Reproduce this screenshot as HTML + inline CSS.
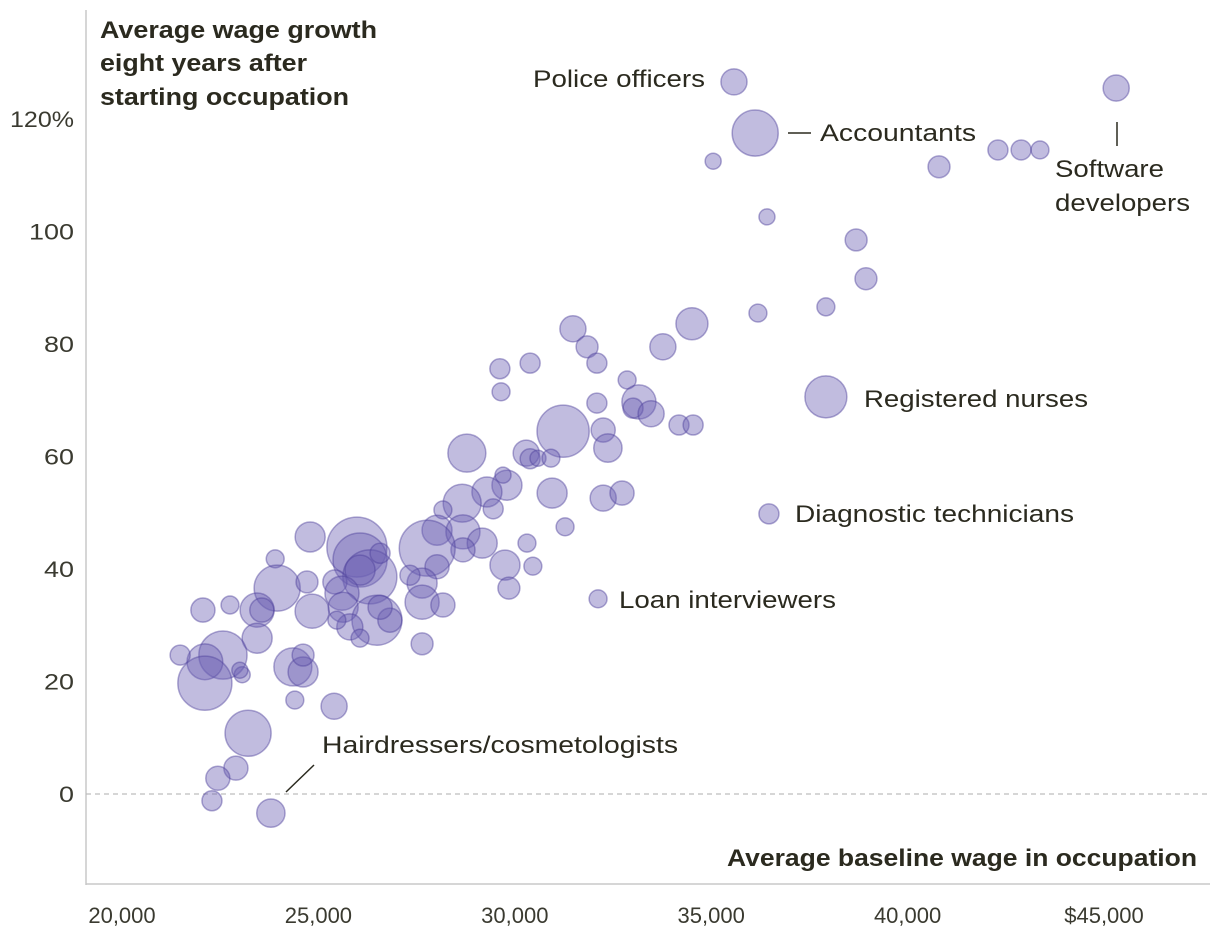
<!DOCTYPE html>
<html><head><meta charset="utf-8">
<style>
body{margin:0;background:#fff;}
svg{display:block;font-family:"Liberation Sans",sans-serif;}
.lab{font-size:24px;fill:#2b2a1f;}
.tick{font-size:22px;fill:#3a3a30;}
</style></head>
<body>
<svg id="chart" width="1220" height="946" viewBox="0 0 1220 946">
<g id="axes"></g>
<g id="bubbles"></g>
<g id="annot"></g>
</svg>
<script>
const wages=[28780,29800,29700,29290,29450,28660,28170,28020,28680,29170,28680,29750,29850,27770,28020,27640,27640,28170,27330,27640,25980,26060,26310,26060,26570,25420,25600,25630,26490,26820,25800,26060,25470,26570,24790,23900,23950,24710,24840,23440,23560,22750,22060,23440,22570,22110,22110,21480,23060,23000,24350,24610,24610,24400,25400,23210,22900,22440,22290,23790,
31480,31840,32090,34510,33770,32860,33160,33010,33470,34180,34540,29620,30390,29650,32090,31230,32250,32370,30290,30390,30590,30920,30950,32250,32730,31280,30310,30460,32120,
35580,36120,35050,45310,42300,42890,43370,40800,36420,38690,38940,36190,37920,37920,36470];
const growth=[60.6,54.9,56.7,53.7,50.7,51.7,50.5,46.9,46.6,44.6,43.4,40.7,36.6,43.7,40.4,37.5,34.1,33.6,38.9,26.7,43.9,41.6,38.6,39.8,42.8,37.7,35.7,33.2,30.9,30.9,29.7,27.7,30.9,33.2,45.7,41.8,36.6,37.7,32.5,32.7,32.7,33.6,32.7,27.7,24.7,23.5,19.7,24.7,21.2,22.0,22.6,21.7,24.7,16.7,15.6,10.8,4.6,2.8,-1.2,-3.4,
82.7,79.5,76.6,83.6,79.5,73.6,69.7,68.6,67.6,65.6,65.6,75.6,76.6,71.5,69.5,64.5,64.7,61.5,60.6,59.6,59.7,59.7,53.5,52.6,53.5,47.5,44.6,40.5,34.7,
126.6,117.5,112.5,125.5,114.5,114.5,114.5,111.5,102.6,98.5,91.6,85.5,86.6,70.6,49.8];
const workers=[360,225,64,225,100,360,80,225,290,225,145,225,120,780,145,225,290,145,100,120,900,730,730,225,100,145,290,225,625,145,170,80,80,145,225,80,530,120,290,290,145,80,145,225,580,320,730,100,64,64,360,225,120,80,170,530,145,145,100,200,
170,120,100,256,170,80,290,100,170,100,100,100,100,80,100,680,145,200,170,100,64,80,225,170,145,80,80,80,80,
170,530,64,170,100,100,80,120,64,120,120,80,80,440,100];
const xTicks=[20000,25000,30000,35000,40000,45000];
const xTickLabels=["20,000","25,000","30,000","35,000","40,000","$45,000"];
const yTicks=[0,20,40,60,80,100,120];
const yTickLabels=["0","20","40","60","80","100","120%"];

const NS="http://www.w3.org/2000/svg";
const X=v=>122+(v-20000)*0.03928;
const Y=v=>794-v*5.625;
function mk(tag,attrs,parent,text){const e=document.createElementNS(NS,tag);for(const k in attrs)e.setAttribute(k,attrs[k]);if(text!==undefined)e.textContent=text;parent.appendChild(e);return e;}
const axes=document.getElementById('axes');
let e=mk('line',{x1:86,y1:10,x2:86,y2:885,stroke:'#c8c8c8','stroke-width':1.5},axes);


e=mk('line',{x1:86,y1:884,x2:1210,y2:884,stroke:'#c8c8c8','stroke-width':1.5},axes);


e=mk('line',{x1:86,y1:Y(0),x2:1210,y2:Y(0),stroke:'#bdbdbd','stroke-width':1.2,'stroke-dasharray':'5,4'},axes);


xTicks.forEach((t,i)=>{
  const el=mk('text',{x:X(t),y:923,'text-anchor':'middle',class:'tick'},axes,xTickLabels[i]);
  
  
});
yTicks.forEach((t,i)=>{
  const lab=yTickLabels[i];
  const w=lab.length===1?15:lab.length===2?30:lab.length===3?45:64;
  const el=mk('text',{x:74-w,y:Y(t)+8,class:'tick',textLength:w,lengthAdjust:'spacingAndGlyphs'},axes,lab);
  
  
});
const bg=document.getElementById('bubbles');
wages.forEach((w,i)=>{
  const c=mk('circle',{cx:X(w),cy:Y(growth[i]),r:Math.sqrt(workers[i]),fill:'#6b60b2','fill-opacity':0.42,stroke:'#4d419c','stroke-opacity':0.45,'stroke-width':1.5},bg);
  
  
});
</script>
<script>
(function(){
const a=document.getElementById('annot');
const NS="http://www.w3.org/2000/svg";
function t(x,y,s,name,bold,w){const e=document.createElementNS(NS,'text');e.setAttribute('x',x);e.setAttribute('y',y);e.setAttribute('class','lab');if(bold)e.setAttribute('font-weight','bold');
e.setAttribute('textLength',w);e.setAttribute('lengthAdjust','spacingAndGlyphs');e.textContent=s;


a.appendChild(e);}
function l(x1,y1,x2,y2,name){const e=document.createElementNS(NS,'line');e.setAttribute('x1',x1);e.setAttribute('y1',y1);e.setAttribute('x2',x2);e.setAttribute('y2',y2);e.setAttribute('stroke','#2b2a1f');e.setAttribute('stroke-width',1.5);


a.appendChild(e);}
t(100,38,'Average wage growth','y-axis-title',true,277);
t(100,71,'eight years after','y-axis-title',true,207);
t(100,105,'starting occupation','y-axis-title',true,249);
t(727,866,'Average baseline wage in occupation','x-axis-title',true,470);
t(533,87,'Police officers','label-police-officers',false,172);
t(820,141,'Accountants','label-accountants',false,156);
l(788,133,811,133,'accountants-leader');
t(1055,177,'Software','label-software-developers',false,109);
t(1055,211,'developers','label-software-developers',false,135);
l(1117,122,1117,146,'software-leader');
t(864,407,'Registered nurses','label-registered-nurses',false,224);
t(795,522,'Diagnostic technicians','label-diagnostic-technicians',false,279);
t(619,608,'Loan interviewers','label-loan-interviewers',false,217);
t(322,753,'Hairdressers/cosmetologists','label-hairdressers',false,356);
l(286,792,314,765,'hairdressers-leader');
})();
</script>
</body></html>
